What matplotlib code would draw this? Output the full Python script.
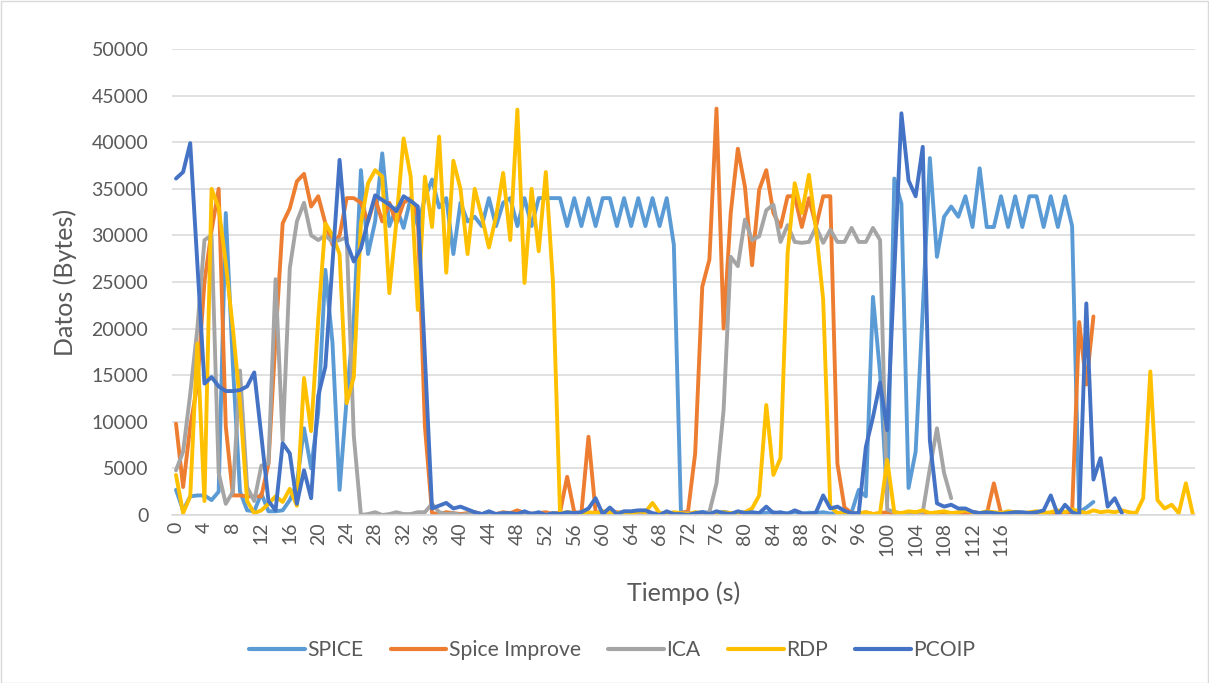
"""Datos (Bytes) vs Tiempo (s) for five remote-display protocols."""

import matplotlib

matplotlib.use("Agg")
import matplotlib.pyplot as plt
import numpy as np
from matplotlib.patches import Rectangle

plt.rcParams.update(
    {
        "font.family": ["Lato", "DejaVu Sans"],
        "font.size": 14,
        "text.color": "#595959",
    }
)

# Values, one per second (category index).
SPICE = [
    2700, 500, 2000, 2100, 2100, 1600, 2500, 32400, 16000, 2500,
    500, 400, 2300, 400, 400, 500, 1600, 3400, 9300, 5000,
    11000, 26300, 18500, 2700, 12500, 21000, 37000, 28000, 31500, 38800,
    31000, 33000, 30800, 34000, 31000, 34000, 36000, 33000, 34000, 28000,
    33500, 31500, 32000, 31000, 34000, 31000, 33500, 34000, 31000, 34000,
    31000, 34000, 34000, 34000, 34000, 31000, 34000, 31000, 34000, 31000,
    34000, 34000, 31000, 34000, 31000, 34000, 31000, 34000, 31000, 34000,
    29000, 300, 200, 150, 300, 250, 100, 350, 200, 150,
    300, 200, 100, 250, 300, 150, 200, 350, 100, 250,
    200, 300, 150, 250, 100, 300, 2700, 2000, 23400, 15200,
    1500, 36100, 33400, 2900, 6800, 22000, 38300, 27700, 32000, 33100,
    32000, 34200, 30900, 37200, 30900, 30900, 34200, 30900, 34200, 30900,
    34200, 34200, 30900, 34200, 30900, 34200, 31000, 300, 800, 1400,
]
SPICE_IMPROVE = [
    9800, 3000, 9500, 14000, 25000, 30500, 35000, 9500, 2100, 2100,
    2000, 2000, 2000, 5500, 19000, 31300, 32900, 35800, 36600, 33100,
    34200, 31300, 29000, 30000, 34000, 34000, 33500, 31500, 34000, 31500,
    33500, 31300, 33500, 34000, 32000, 9500, 200, 100, 300, 200,
    100, 200, 300, 100, 200, 100, 300, 200, 500, 200,
    100, 200, 300, 100, 300, 4100, 300, 200, 8400, 300,
    200, 100, 300, 200, 100, 200, 300, 100, 200, 100,
    100, 200, 400, 6600, 24500, 27400, 43600, 20000, 32400, 39300,
    35200, 26800, 34900, 37000, 32400, 30900, 34200, 34200, 30900, 34000,
    31000, 34200, 34200, 5500, 800, 200, 100, 300, 100, 200,
    300, 100, 200, 100, 300, 200, 100, 200, 300, 100,
    200, 100, 300, 200, 100, 3400, 200, 100, 300, 200,
    100, 200, 300, 100, 200, 300, 300, 20700, 14000, 21300,
]
ICA = [
    4800, 6800, 13000, 20000, 29500, 30000, 4500, 1200, 2500, 15500,
    3000, 1500, 5300, 5500, 25300, 8000, 26500, 31500, 33500, 30000,
    29500, 30000, 29300, 29500, 29800, 8500, 0, 100, 300, 0,
    100, 300, 100, 100, 300, 300, 1200, 300, 100, 200,
    0, 100, 200, 100, 0, 100, 200, 100, 0, 100,
    200, 100, 0, 200, 100, 0, 100, 200, 100, 0,
    100, 200, 0, 100, 100, 200, 0, 100, 200, 100,
    0, 100, 200, 100, 100, 300, 3400, 11300, 27700, 26700,
    31700, 29500, 29900, 32700, 33300, 29300, 31100, 29300, 29200, 29300,
    30900, 29200, 30600, 29300, 29300, 30800, 29300, 29300, 30800, 29500,
    600, 300, 200, 100, 200, 300, 5000, 9300, 4500, 1800,
]
RDP = [
    4300, 200, 2000, 18400, 1500, 35000, 33000, 27000, 20000, 12000,
    1500, 200, 500, 1200, 2000, 1400, 2800, 1000, 14700, 9000,
    21000, 31300, 30000, 28000, 12000, 14800, 31300, 35600, 37000, 36300,
    23800, 31600, 40400, 36300, 22000, 36300, 30900, 40600, 26000, 38000,
    35000, 28000, 35000, 32000, 28700, 32000, 36700, 29500, 43500, 24900,
    35000, 28300, 36800, 25000, 200, 300, 200, 100, 300, 200,
    400, 300, 200, 300, 100, 400, 300, 1300, 200, 100,
    300, 200, 100, 300, 200, 100, 200, 300, 200, 100,
    300, 700, 2100, 11800, 4300, 6100, 28100, 35600, 32400, 36500,
    30600, 23100, 900, 200, 300, 100, 200, 300, 100, 200,
    5900, 300, 200, 400, 300, 500, 200, 300, 400, 200,
    300, 500, 300, 200, 400, 300, 200, 400, 300, 200,
    300, 400, 200, 300, 500, 300, 600, 400, 200, 500,
    300, 400, 300, 500, 300, 200, 1800, 15400, 1600, 700,
    1100, 200, 3400, 0,
]
PCOIP = [
    36100, 36800, 39900, 27000, 14100, 14800, 13800, 13300, 13300, 13400,
    13800, 15300, 8500, 1500, 500, 7700, 6600, 1200, 4800, 1800,
    12800, 15900, 27000, 38100, 29200, 27200, 28600, 31600, 34300, 33800,
    33300, 32600, 34200, 33700, 33100, 17000, 700, 1000, 1300, 700,
    900, 600, 300, 100, 400, 100, 200, 200, 100, 400,
    100, 300, 0, 200, 100, 300, 200, 300, 700, 1800,
    100, 800, 100, 400, 400, 500, 500, 200, 0, 400,
    100, 100, 0, 200, 300, 100, 400, 200, 100, 400,
    200, 300, 200, 900, 200, 300, 100, 500, 200, 100,
    300, 2100, 700, 900, 450, 200, 200, 7300, 10500, 14200,
    9100, 26000, 43100, 35900, 34200, 39500, 8000, 1250, 900, 1100,
    700, 700, 350, 200, 300, 200, 100, 200, 300, 300,
    200, 300, 500, 2100, 0, 1100, 300, 0, 22700, 3800,
    6100, 900, 1800, 200,
]

SERIES_NAMES = ["SPICE", "Spice Improve", "ICA", "RDP", "PCOIP"]
SERIES_VALUES = [SPICE, SPICE_IMPROVE, ICA, RDP, PCOIP]
COLORS = ["#5B9BD5", "#ED7D31", "#A5A5A5", "#FFC000", "#4472C4"]

N_CATEGORIES = 144
X_TICKS = list(range(0, 117, 4))
Y_TICKS = list(range(0, 50001, 5000))

GRID_COLOR = "#D9D9D9"


def main() -> None:
    fig = plt.figure(figsize=(12.09, 6.83), dpi=100)
    W, H = 1209, 683

    # Excel-like chart area border
    fig.patches.append(
        Rectangle((0.5 / W, 0.5 / H), 1 - 1.5 / W, 1 - 1.5 / H,
                  transform=fig.transFigure, fill=False,
                  edgecolor=GRID_COLOR, linewidth=1.0)
    )

    left, right, top, bottom = 172, 1195, 49, 515
    ax = fig.add_axes([left / W, 1 - bottom / H, (right - left) / W, (bottom - top) / H])

    for name, vals, color in zip(SERIES_NAMES, SERIES_VALUES, COLORS):
        x = np.arange(len(vals))
        ax.plot(x, vals, color=color, linewidth=2.8, label=name,
                solid_joinstyle="round", solid_capstyle="round")

    ax.set_xlim(-4 / 7.11, (N_CATEGORIES - 1) + 2 / 7.11)
    ax.set_ylim(0, 50000)
    ax.set_yticks(Y_TICKS)
    ax.set_yticklabels([str(v) for v in Y_TICKS])
    ax.set_xticks(X_TICKS)
    ax.set_xticklabels([str(v) for v in X_TICKS], rotation=90)
    ax.tick_params(axis="y", length=0, pad=17, labelcolor="#595959", labelsize=14)
    ax.tick_params(axis="x", length=0, pad=5, labelcolor="#595959", labelsize=14)

    ax.grid(axis="y", color=GRID_COLOR, linewidth=1.1)
    ax.set_axisbelow(True)
    for side in ("top", "right", "left"):
        ax.spines[side].set_visible(False)
    ax.spines["bottom"].set_color(GRID_COLOR)
    ax.spines["bottom"].set_linewidth(1.1)

    fig.text(684 / W, 1 - 593 / H, "Tiempo (s)", ha="center", va="center",
             fontsize=18, color="#595959")
    fig.text(65 / W, 1 - 282 / H, "Datos (Bytes)", ha="center", va="center",
             rotation=90, fontsize=18, color="#595959")

    leg = fig.legend(loc="center", bbox_to_anchor=(612 / W, 1 - 650 / H), ncol=5,
                     frameon=False, fontsize=15.2, handlelength=2.65,
                     handletextpad=0.1, columnspacing=1.3)
    for line in leg.get_lines():
        line.set_linewidth(3.0)
        line.set_solid_capstyle("round")
    for text in leg.get_texts():
        text.set_color("#595959")

    fig.savefig("out.png", dpi=100)
    plt.close(fig)


if __name__ == "__main__":
    main()
